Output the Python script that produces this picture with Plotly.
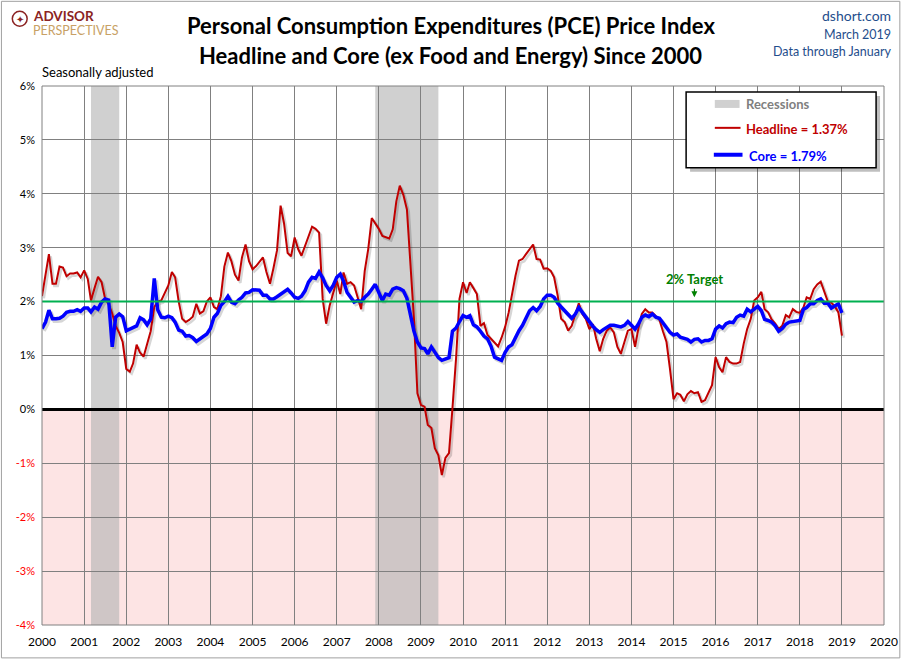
import pandas as pd
import plotly.graph_objects as go

# monthly year-over-year change, Jan 2000 .. Jan 2019
headline = [
    2.10, 2.50, 2.88, 2.33, 2.33, 2.65, 2.63, 2.47, 2.52, 2.52, 2.54, 2.45,  # 2000
    2.58, 2.42, 2.02, 2.25, 2.46, 2.36, 2.06, 1.95, 1.78, 1.55, 1.42, 1.25,  # 2001
    0.75, 0.70, 0.85, 1.20, 1.05, 0.98, 1.20, 1.45, 1.90, 2.00, 2.02, 2.15,  # 2002
    2.30, 2.55, 2.45, 2.00, 1.68, 1.62, 1.66, 1.72, 1.96, 1.78, 1.82, 2.00,  # 2003
    2.08, 1.90, 1.86, 2.10, 2.65, 2.91, 2.75, 2.50, 2.39, 2.82, 3.06, 2.75,  # 2004
    2.60, 2.66, 2.74, 2.82, 2.55, 2.33, 2.62, 2.95, 3.78, 3.45, 2.90, 2.84,  # 2005
    3.19, 2.97, 2.85, 3.03, 3.20, 3.39, 3.35, 3.28, 2.05, 1.59, 1.93, 2.17,  # 2006
    2.39, 2.14, 2.54, 2.33, 2.36, 2.30, 2.08, 1.86, 2.57, 2.97, 3.55, 3.46,  # 2007
    3.35, 3.22, 3.20, 3.17, 3.34, 3.86, 4.15, 3.98, 3.71, 2.66, 1.68, 0.30,  # 2008
    0.08, 0.05, -0.29, -0.34, -0.72, -0.85, -1.22, -0.90, -0.81, 0.02, 0.94, 2.05,  # 2009
    2.36, 2.16, 2.36, 2.25, 2.14, 1.55, 1.60, 1.38, 1.31, 1.24, 1.17, 1.33,  # 2010
    1.53, 1.80, 2.14, 2.48, 2.76, 2.79, 2.88, 2.96, 3.06, 2.79, 2.78, 2.61,  # 2011
    2.62, 2.57, 2.45, 2.11, 1.68, 1.62, 1.46, 1.55, 1.75, 1.97, 1.77, 1.68,  # 2012
    1.49, 1.58, 1.31, 1.08, 1.31, 1.46, 1.52, 1.43, 1.16, 1.03, 1.25, 1.46,  # 2013
    1.49, 1.16, 1.49, 1.77, 1.86, 1.80, 1.80, 1.72, 1.66, 1.45, 1.25, 0.75,  # 2014
    0.19, 0.30, 0.27, 0.15, 0.28, 0.34, 0.30, 0.32, 0.14, 0.17, 0.32, 0.45,  # 2015
    0.97, 0.78, 0.69, 0.97, 0.88, 0.85, 0.85, 0.88, 1.22, 1.49, 1.68, 2.02,  # 2016
    2.08, 2.18, 1.86, 1.80, 1.67, 1.59, 1.49, 1.55, 1.75, 1.71, 1.86, 1.81,  # 2017
    1.79, 1.89, 2.08, 2.05, 2.23, 2.32, 2.37, 2.20, 2.00, 1.98, 1.91, 1.80,  # 2018
    1.37,                                                                    # 2019
]
core = [
    1.50, 1.62, 1.84, 1.68, 1.68, 1.69, 1.73, 1.80, 1.82, 1.82, 1.85, 1.82,
    1.88, 1.88, 1.81, 1.90, 1.86, 1.99, 2.05, 2.03, 1.16, 1.71, 1.77, 1.72,
    1.46, 1.49, 1.52, 1.55, 1.70, 1.66, 1.57, 1.68, 2.43, 1.85, 1.71, 1.70,
    1.73, 1.70, 1.62, 1.47, 1.45, 1.36, 1.37, 1.33, 1.26, 1.30, 1.36, 1.40,
    1.50, 1.71, 1.78, 1.93, 2.00, 2.10, 1.99, 1.96, 2.03, 2.08, 2.16, 2.17,
    2.22, 2.22, 2.21, 2.12, 2.12, 2.05, 2.05, 2.09, 2.14, 2.17, 2.23, 2.16,
    2.08, 2.06, 2.10, 2.20, 2.36, 2.45, 2.43, 2.55, 2.44, 2.30, 2.20, 2.30,
    2.45, 2.51, 2.38, 2.17, 2.09, 1.99, 2.02, 2.00, 2.08, 2.14, 2.23, 2.32,
    2.17, 2.02, 2.14, 2.12, 2.23, 2.26, 2.24, 2.20, 2.06, 1.76, 1.45, 1.25,
    1.14, 1.13, 1.03, 1.16, 1.06, 0.96, 0.91, 0.94, 0.96, 1.45, 1.51, 1.63,
    1.74, 1.71, 1.74, 1.57, 1.53, 1.45, 1.36, 1.31, 1.17, 0.97, 0.94, 0.91,
    1.06, 1.16, 1.20, 1.34, 1.46, 1.56, 1.68, 1.83, 1.89, 1.83, 1.91, 2.05,
    2.12, 2.12, 2.08, 1.97, 1.90, 1.83, 1.77, 1.69, 1.77, 1.89, 1.80, 1.71,
    1.62, 1.54, 1.48, 1.43, 1.48, 1.53, 1.56, 1.56, 1.55, 1.53, 1.56, 1.63,
    1.56, 1.49, 1.58, 1.71, 1.75, 1.72, 1.77, 1.71, 1.69, 1.61, 1.52, 1.43,
    1.38, 1.40, 1.34, 1.32, 1.30, 1.25, 1.30, 1.31, 1.25, 1.28, 1.28, 1.31,
    1.49, 1.55, 1.51, 1.59, 1.62, 1.61, 1.71, 1.75, 1.73, 1.86, 1.81, 1.86,
    1.91, 1.83, 1.67, 1.65, 1.62, 1.55, 1.45, 1.50, 1.58, 1.62, 1.63, 1.63,
    1.65, 1.86, 1.89, 1.96, 1.96, 2.02, 2.05, 1.97, 1.97, 1.88, 1.93, 1.96,
    1.79,
]
recessions = [("2001-03-01", "2001-11-01"), ("2007-12-01", "2009-06-01")]
target = 2.0
y_ticks = [6, 5, 4, 3, 2, 1, 0, -1, -2, -3, -4]
x_years = list(range(2000, 2021))

dates = pd.date_range("2000-01-01", periods=len(headline), freq="MS")

FONT = "Lato"
L, R, T, B = 42, 17, 86, 34
W, H = 910 - L - R, 661 - T - B


def px(x):
    return (x - L) / W


def py(y):
    return 1 - (y - T) / H


fig = go.Figure()

# soft drop shadows under both lines
shift = pd.Timedelta(days=16)
fig.add_trace(go.Scatter(x=dates + shift, y=[v - 0.04 for v in headline], mode="lines",
                         line=dict(color="rgba(0,0,0,0.16)", width=2.5), hoverinfo="skip",
                         showlegend=False))
fig.add_trace(go.Scatter(x=dates + shift, y=[v - 0.04 for v in core], mode="lines",
                         line=dict(color="rgba(0,0,0,0.16)", width=4), hoverinfo="skip",
                         showlegend=False))

fig.add_trace(go.Scatter(x=dates, y=headline, mode="lines", name="Headline",
                         line=dict(color="#C00000", width=2), showlegend=False))
fig.add_trace(go.Scatter(x=dates, y=core, mode="lines", name="Core",
                         line=dict(color="#0000FF", width=3.5), showlegend=False))

shapes = []
# pink area below zero
shapes.append(dict(type="rect", xref="paper", yref="y", x0=0, x1=1, y0=min(y_ticks), y1=0,
                   fillcolor="#FDE4E4", line=dict(width=0), layer="below"))
for start, end in recessions:
    shapes.append(dict(type="rect", xref="x", yref="paper", x0=start, x1=end, y0=0, y1=1,
                       fillcolor="rgba(180,180,180,0.63)", line=dict(width=0), layer="below"))
# 2% target
shapes.append(dict(type="line", xref="paper", yref="y", x0=0, x1=1, y0=target, y1=target,
                   line=dict(color="#00B050", width=2)))
# plot frame and outer border
shapes.append(dict(type="rect", xref="paper", yref="paper", x0=0, x1=1, y0=0, y1=1,
                   line=dict(color="#808080", width=1)))
shapes.append(dict(type="rect", xref="paper", yref="paper", x0=px(1), x1=px(909),
                   y0=py(660), y1=py(1), line=dict(color="#A0A0A0", width=1)))

# legend box
shapes.append(dict(type="rect", xref="paper", yref="paper", x0=px(697), x1=px(889),
                   y0=py(172), y1=py(96), fillcolor="rgba(0,0,0,0.25)", line=dict(width=0)))
shapes.append(dict(type="rect", xref="paper", yref="paper", x0=px(693), x1=px(885),
                   y0=py(168), y1=py(92), fillcolor="white", line=dict(color="black", width=1.5)))
shapes.append(dict(type="rect", xref="paper", yref="paper", x0=px(722), x1=px(747),
                   y0=py(108), y1=py(100), fillcolor="#D0D0D0", line=dict(width=0)))
shapes.append(dict(type="line", xref="paper", yref="paper", x0=px(722), x1=px(748),
                   y0=py(128), y1=py(128), line=dict(color="#C00000", width=2)))
shapes.append(dict(type="line", xref="paper", yref="paper", x0=px(721), x1=px(750),
                   y0=py(155), y1=py(155), line=dict(color="#0000FF", width=4)))

# logo mark
shapes.append(dict(type="circle", xref="paper", yref="paper", x0=px(12), x1=px(27),
                   y0=py(26), y1=py(11), line=dict(color="#8B2323", width=1.5)))

fig.update_layout(shapes=shapes)

ann = []


def text(x, y, s, size, color="black", bold=False, xanchor="left"):
    if bold:
        s = "<b>" + s + "</b>"
    ann.append(dict(xref="paper", yref="paper", x=px(x), y=py(y), text=s, showarrow=False,
                    xanchor=xanchor, yanchor="middle",
                    font=dict(family=FONT, size=size, color=color)))


text(455, 25, "Personal Consumption Expenditures (PCE) Price Index", 22, bold=True,
     xanchor="center")
text(455, 55, "Headline and Core (ex Food and Energy) Since 2000", 22, bold=True,
     xanchor="center")
text(902, 15, "dshort.com", 14, "#1F4E8C", xanchor="right")
text(902, 34, "March 2019", 12.5, "#1F4E8C", xanchor="right")
text(902, 51, "Data through January", 12.5, "#1F4E8C", xanchor="right")
text(40, 72, "Seasonally adjusted", 13)
text(31, 16, "ADVISOR", 13.5, "#8B2323", bold=True)
text(31, 30, "PERSPECTIVES", 12.5, "#C8A165")
text(19.5, 18.5, "✦", 10, "#8B2323", xanchor="center")

text(751, 104, "Recessions", 13, "#7F7F7F", bold=True)
text(751, 129, "Headline = 1.37%", 13, "#C00000", bold=True)
text(755, 156, "Core = 1.79%", 13, "#0000FF", bold=True)

ann.append(dict(x="2015-07-01", y=target + 0.08, xref="x", yref="y", text="<b>2% Target</b>",
                showarrow=True, arrowhead=2, arrowsize=1, arrowwidth=1.2, arrowcolor="#008000",
                ax=0, ay=-18, font=dict(family=FONT, size=13, color="#008000")))

fig.update_layout(annotations=ann)

tick_text = [("<span style='color:red'>%d%%</span>" % v) if v < 0 else "%d%%" % v
             for v in y_ticks]

fig.update_layout(
    width=910, height=661, autosize=False,
    margin=dict(l=L, r=R, t=T, b=B),
    paper_bgcolor="white", plot_bgcolor="white",
    font=dict(family=FONT, size=12, color="black"),
    xaxis=dict(range=["2000-01-01", "2020-01-01"],
               tickvals=["%d-01-01" % y for y in x_years], ticktext=[str(y) for y in x_years],
               showgrid=True, gridcolor="#808080", gridwidth=1, zeroline=False,
               ticks="", tickfont=dict(size=12), ticklabelstandoff=8),
    yaxis=dict(range=[min(y_ticks), max(y_ticks)], tickvals=y_ticks, ticktext=tick_text,
               showgrid=True, gridcolor="#808080", gridwidth=1,
               zeroline=True, zerolinecolor="black", zerolinewidth=2.5,
               ticks="", tickfont=dict(size=11), ticklabelstandoff=6),
    showlegend=False,
)

# the page's default body margin would push the chart 8px off the window
fig.write_html("out.html", config={"responsive": False, "displayModeBar": False},
               post_script="document.body.style.margin='0';")
